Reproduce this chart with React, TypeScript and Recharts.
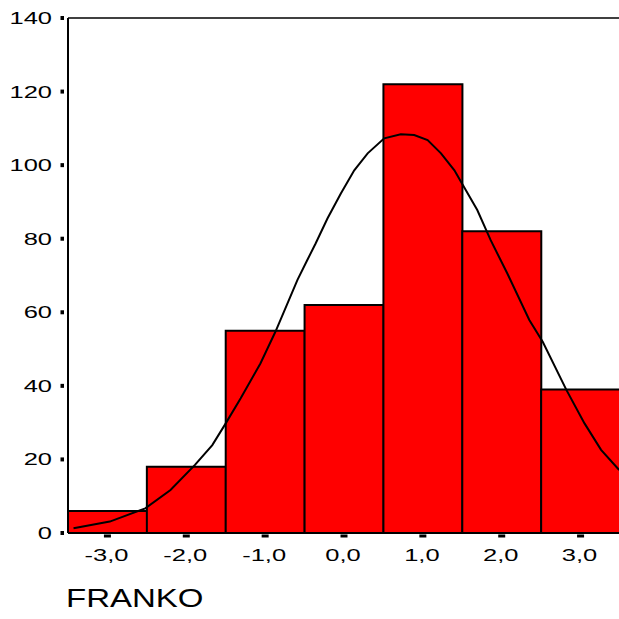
import React from 'react';
import { ComposedChart, Bar, Line, XAxis, YAxis, ReferenceLine } from 'recharts';

// Histogram bins (centres and labels) and counts
const binCenters = [-3, -2, -1, 0, 1, 2, 3];
const binLabels = ['-3,0', '-2,0', '-1,0', '0,0', '1,0', '2,0', '3,0'];
const counts = [6, 18, 55, 62, 122, 82, 39];

// Normal curve
const curveX = [-3.43, -2.97, -2.52, -2.2, -1.89, -1.67, -1.5, -1.31, -1.06, -0.87, -0.59, -0.47, -0.36, -0.21, -0.04, 0.13, 0.3, 0.51, 0.72, 0.89, 1.06, 1.23, 1.4, 1.52, 1.69, 1.86, 2.07, 2.35, 2.52, 2.82, 3.05, 3.26, 3.49];
const curveY = [1.3, 3.1, 6.7, 11.7, 18.5, 23.9, 29.8, 36.6, 46.1, 54.7, 68.8, 74, 78.7, 85.5, 92.3, 98.6, 103.2, 107.3, 108.4, 108.2, 106.8, 103.2, 98.6, 94.1, 87.8, 79.6, 70.6, 57.9, 52, 38.9, 29.8, 22.6, 17.1];

const yTicks = [0, 20, 40, 60, 80, 100, 120, 140];
const xTitle = 'FRANKO';

const barData = binLabels.map((b, i) => ({ bin: b, count: counts[i] }));
const curveData = curveX.map((x, i) => ({ x, y: curveY[i] }));

const FONT = '"Liberation Sans", Arial, sans-serif';

const YTick = (props: any) => {
  const { x, y, payload } = props;
  return (
    <g>
      <rect x={x - 7.5} y={y - 2} width={3.5} height={4} fill="#000" />
      <text
        transform={`translate(${x - 16},${y + 6}) scale(1.5,1)`}
        textAnchor="end"
        fontFamily={FONT}
        fontSize={17}
        fill="#000"
      >
        {payload.value}
      </text>
    </g>
  );
};

const XTick = (props: any) => {
  const { x, y, payload } = props;
  const idx = binCenters.indexOf(payload.value);
  const label = idx >= 0 ? binLabels[idx] : String(payload.value);
  return (
    <g>
      <rect x={x - 3.5} y={y + 1.5} width={7} height={3} fill="#000" />
      <text
        transform={`translate(${x - 1},${y + 28}) scale(1.5,1)`}
        textAnchor="middle"
        fontFamily={FONT}
        fontSize={17}
        fill="#000"
      >
        {label}
      </text>
    </g>
  );
};

export default function App() {
  return (
    <div style={{ position: 'absolute', left: 0, top: 0, width: 619, height: 619, overflow: 'hidden', background: '#fff' }}>
      <ComposedChart
        width={620}
        height={619}
        data={barData}
        margin={{ top: 18, right: 0, bottom: 0, left: 0 }}
        barCategoryGap={0}
        barGap={0}
      >
        <XAxis
          xAxisId="num"
          dataKey="x"
          type="number"
          domain={[-3.5, 3.5]}
          allowDataOverflow
          ticks={binCenters}
          interval={0}
          height={86}
          tickSize={0}
          tickMargin={0}
          tickLine={false}
          axisLine={{ stroke: '#000', strokeWidth: 2 }}
          tick={<XTick />}
        />
        <XAxis xAxisId="cat" dataKey="bin" type="category" hide height={0} />
        <YAxis
          domain={[0, 140]}
          ticks={yTicks}
          interval={0}
          width={68}
          tickSize={0}
          tickMargin={0}
          tickLine={false}
          axisLine={{ stroke: '#000', strokeWidth: 2 }}
          tick={<YTick />}
          allowDataOverflow
        />
        <Bar
          xAxisId="cat"
          dataKey="count"
          fill="#FF0000"
          stroke="#000"
          strokeWidth={2}
          isAnimationActive={false}
        />
        <Line
          xAxisId="num"
          data={curveData}
          dataKey="y"
          type="linear"
          dot={false}
          stroke="#000"
          strokeWidth={2}
          isAnimationActive={false}
        />
        <ReferenceLine xAxisId="num" y={140} stroke="#000" strokeWidth={1.5} ifOverflow="visible" />
      </ComposedChart>
      <svg style={{ position: 'absolute', left: 0, top: 0 }} width={619} height={619} pointerEvents="none">
        <text
          transform="translate(66,607) scale(1.27,1)"
          fontFamily={FONT}
          fontSize={26}
          fill="#000"
        >
          {xTitle}
        </text>
      </svg>
    </div>
  );
}
